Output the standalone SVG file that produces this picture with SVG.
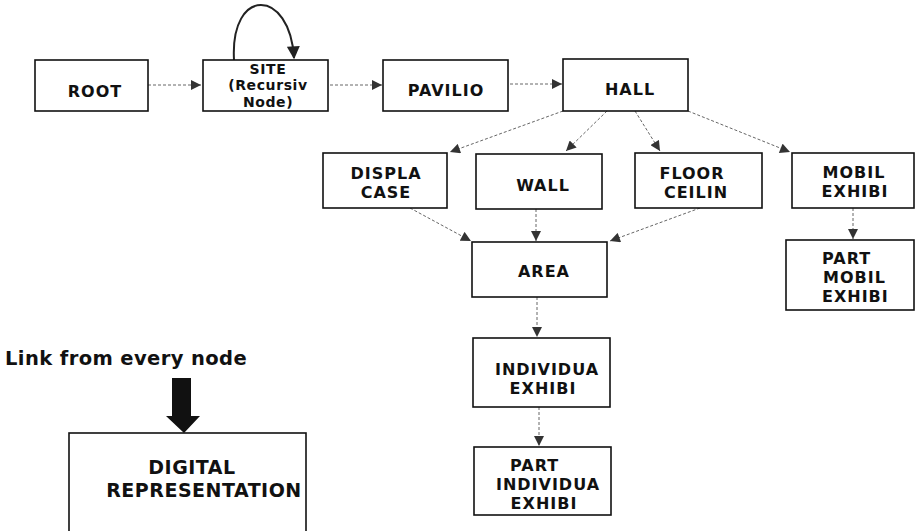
<svg xmlns="http://www.w3.org/2000/svg" width="916" height="531" viewBox="0 0 916 531">
<style>
.box{fill:#fff;stroke:#111;stroke-width:1.6}
.t{font-family:"DejaVu Sans",Verdana,sans-serif;font-weight:bold;font-size:16px;letter-spacing:1px;fill:#111;text-anchor:middle}
.s{font-size:14px;letter-spacing:0.6px}
.big{font-size:19px;letter-spacing:0.5px}
.lt{text-anchor:start}
.c{fill:none;stroke:#666;stroke-width:1;stroke-dasharray:3,2;marker-end:url(#ah)}
</style>
<defs>
<marker id="ah" viewBox="0 0 10 10" refX="10" refY="5" markerWidth="11" markerHeight="10" markerUnits="userSpaceOnUse" orient="auto">
<path d="M0,0 L10,5 L0,10 Z" fill="#333"/>
</marker>
<marker id="ah2" viewBox="0 0 10 10" refX="9" refY="5" markerWidth="14" markerHeight="13" markerUnits="userSpaceOnUse" orient="auto">
<path d="M0,0 L10,5 L0,10 Z" fill="#222"/>
</marker>
</defs>
<rect width="916" height="531" fill="#fff"/>
<g id="connectors">
<path class="c" d="M148,85 L201,85"/>
<path class="c" d="M330,85 L382,85"/>
<path class="c" d="M510,84 L562,84"/>
<path class="c" d="M563,111 L450,152"/>
<path class="c" d="M607,111 L566,151"/>
<path class="c" d="M635,111 L660,151"/>
<path class="c" d="M688,111 L790,152"/>
<path class="c" d="M410,208 L471,241"/>
<path class="c" d="M536,209 L536,241"/>
<path class="c" d="M700,208 L610,241"/>
<path class="c" d="M853,208 L853,239"/>
<path class="c" d="M537,297 L537,337"/>
<path class="c" d="M539,407 L539,446"/>
<path d="M234,60 C230,-14 290,-12 294,58" fill="none" stroke="#222" stroke-width="2" marker-end="url(#ah2)"/>
<path d="M172,378 L191,378 L191,416 L200,416 L184,433 L166,416 L172,416 Z" fill="#111"/>
</g>
<g id="root"><rect class="box" x="35" y="60" width="113" height="51"/><text class="t" x="95" y="97">ROOT</text></g>
<g id="site"><rect class="box" x="203" y="60" width="125" height="51"/><text class="t s" x="268" y="74">SITE</text><text class="t s" x="268" y="90.3">(Recursiv</text><text class="t s" x="268" y="106.6">Node)</text></g>
<g id="pavilio"><rect class="box" x="383" y="60" width="125" height="51"/><text class="t" x="446" y="96">PAVILIO</text></g>
<g id="hall"><rect class="box" x="563" y="59" width="125" height="52"/><text class="t" x="630" y="95">HALL</text></g>
<g id="displa"><rect class="box" x="323" y="153" width="124" height="55"/><text class="t" x="386" y="179">DISPLA</text><text class="t" x="386" y="198">CASE</text></g>
<g id="wall"><rect class="box" x="476" y="154" width="126" height="55"/><text class="t" x="543" y="191">WALL</text></g>
<g id="floor"><rect class="box" x="635" y="153" width="127" height="55"/><text class="t" x="692" y="179">FLOOR</text><text class="t" x="696" y="198">CEILIN</text></g>
<g id="mobil"><rect class="box" x="792" y="153" width="122" height="55"/><text class="t" x="854" y="178">MOBIL</text><text class="t" x="855" y="197">EXHIBI</text></g>
<g id="partmobil"><rect class="box" x="786" y="240" width="128" height="70"/><text class="t lt" x="822" y="264">PART</text><text class="t lt" x="823" y="283">MOBIL</text><text class="t lt" x="822" y="302">EXHIBI</text></g>
<g id="area"><rect class="box" x="472" y="242" width="135" height="55"/><text class="t" x="544" y="277">AREA</text></g>
<g id="individua"><rect class="box" x="473" y="338" width="137" height="69"/><text class="t" x="547" y="375">INDIVIDUA</text><text class="t" x="543" y="394">EXHIBI</text></g>
<g id="partindividua"><rect class="box" x="474" y="447" width="137" height="68"/><text class="t lt" x="510" y="471">PART</text><text class="t" x="548" y="490">INDIVIDUA</text><text class="t" x="544" y="509">EXHIBI</text></g>
<g id="link"><text class="t big lt" x="5" y="365" style="font-size:19.5px;letter-spacing:0.4px">Link from every node</text></g>
<g id="digital"><rect class="box" x="69" y="433" width="237" height="110"/><text class="t big" x="192" y="474">DIGITAL</text><text class="t big" x="204" y="497">REPRESENTATION</text></g>
</svg>
